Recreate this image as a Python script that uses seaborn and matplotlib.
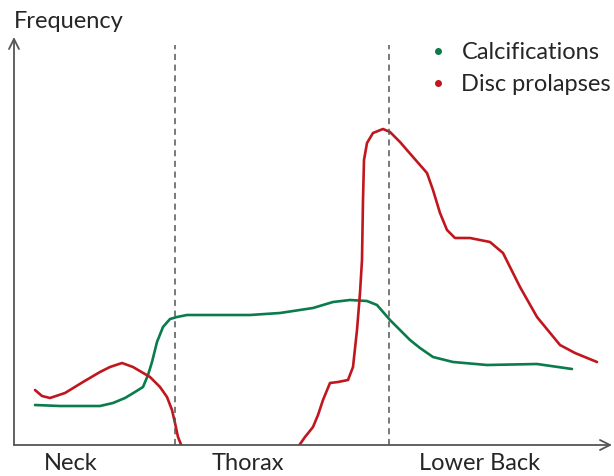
import matplotlib
matplotlib.use("Agg")
import matplotlib.pyplot as plt
import seaborn as sns
import pandas as pd
from matplotlib.lines import Line2D

# position along the spine (left to right) and frequency (arbitrary units)
calc_x = [35, 60, 100, 113, 125, 135, 143, 148, 152, 157, 163, 170, 177, 187, 220,
          250, 280, 313, 333, 350, 367, 377, 390, 400, 410, 420, 433, 453, 487, 537, 572]
calc_y = [40, 39, 39, 42, 47, 53, 58, 70, 83, 103, 118, 126, 128, 130, 130,
          130, 132, 137, 143, 145, 144, 140, 125, 115, 105, 97, 88, 83, 80, 81, 76]

disc_x = [35, 42, 50, 65, 83, 100, 110, 122, 133, 150, 160, 167, 172, 175, 178, 182,
          188, 240, 292, 298, 305, 313, 318, 323, 330, 338, 348, 353, 357, 360, 362,
          363, 364, 367, 373, 383, 390, 400, 413, 427, 433, 440, 447, 455, 470, 490,
          503, 520, 537, 560, 575, 597]
disc_y = [55, 49, 47, 52, 63, 73, 78, 82, 78, 68, 58, 48, 35, 22, 8, -2,
          -25, -60, -10, -2, 8, 18, 30, 45, 62, 63, 65, 78, 115, 152, 185,
          245, 285, 302, 312, 316, 313, 303, 288, 272, 255, 232, 215, 207, 207, 203,
          192, 158, 128, 100, 92, 83]

dividers = [175, 389]
regions = ["Neck", "Thorax", "Lower Back"]
region_pos = [71, 248, 480]
series = ["Calcifications", "Disc prolapses"]
colors = ["#0a7b4b", "#c0171e"]

df = pd.concat([
    pd.DataFrame({"x": calc_x, "y": calc_y, "series": series[0]}),
    pd.DataFrame({"x": disc_x, "y": disc_y, "series": series[1]}),
])

sns.set_style("white")
plt.rcParams["font.family"] = ["Lato", "DejaVu Sans"]

fig = plt.figure(figsize=(6.14, 4.76), dpi=100)
ax = fig.add_axes([14 / 614, 31 / 476, 600 / 614, 425 / 476])
sns.lineplot(data=df, x="x", y="y", hue="series", palette=colors, sort=False,
             estimator=None, linewidth=1.9, legend=False, ax=ax)
ax.set_xlim(14, 614)
ax.set_ylim(0, 425)
for s in ax.spines.values():
    s.set_visible(False)
ax.set_xticks([])
ax.set_yticks([])
ax.set_xlabel("")
ax.set_ylabel("")

# axes with open arrow heads
ax.annotate("", xy=(14, 408), xytext=(14, 0), xycoords="data",
            arrowprops=dict(arrowstyle="->", color="#555555", lw=1.3,
                            mutation_scale=18, shrinkA=0, shrinkB=0),
            annotation_clip=False)
ax.annotate("", xy=(612, 0), xytext=(14, 0), xycoords="data",
            arrowprops=dict(arrowstyle="->", color="#555555", lw=1.3,
                            mutation_scale=18, shrinkA=0, shrinkB=0),
            annotation_clip=False)

for d in dividers:
    ax.plot([d, d], [0, 400], color="#555555", lw=1.1, ls=(0, (4, 3)))

for name, p in zip(regions, region_pos):
    ax.text(p, -8, name, ha="center", va="top", fontsize=17, clip_on=False)
fig.text(14 / 614, 1 - 21 / 476, "Frequency", ha="left", va="center", fontsize=17)

handles = [Line2D([], [], ls="", marker="o", markersize=4, color=c) for c in colors]
ax.legend(handles, series, loc="upper left", bbox_to_anchor=(426 / 614, 1 - 42 / 476),
          bbox_transform=fig.transFigure, frameon=False, fontsize=17,
          handletextpad=0.5, borderpad=0, borderaxespad=0, labelspacing=0.47,
          handlelength=1.0)

fig.savefig("out.png", dpi=100)
